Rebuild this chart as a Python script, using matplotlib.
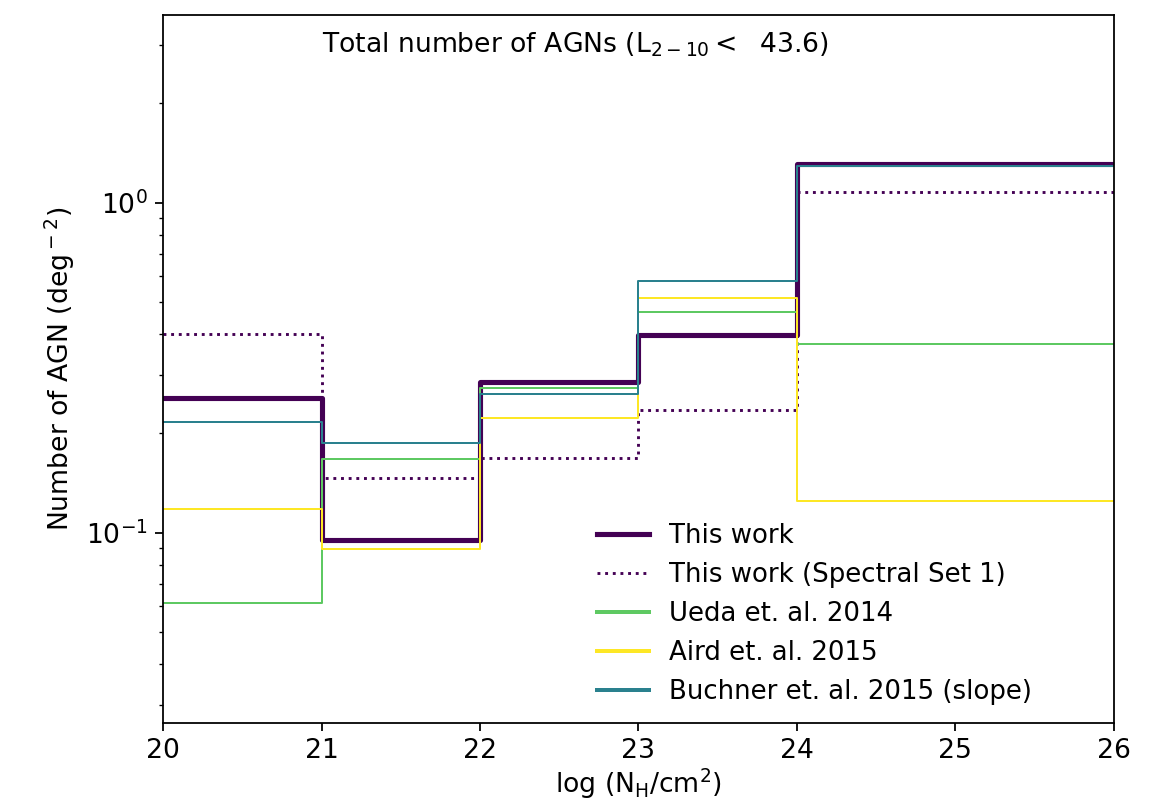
import matplotlib
matplotlib.use("Agg")
import matplotlib.pyplot as plt
import numpy as np

# Column-density bin edges (log N_H / cm^2)
nh_edges = [20, 21, 22, 23, 24, 26]

# Number densities per bin (deg^-2)
this_work = [0.256, 0.095, 0.286, 0.396, 1.31]
this_work_set1 = [0.399, 0.147, 0.168, 0.235, 1.075]
ueda2014 = [0.0611, 0.167, 0.275, 0.468, 0.372]
aird2015 = [0.118, 0.0891, 0.222, 0.515, 0.125]
buchner2015 = [0.217, 0.187, 0.264, 0.579, 1.29]

labels = ["This work", "This work (Spectral Set 1)", "Ueda et. al. 2014",
          "Aird et. al. 2015", "Buchner et. al. 2015 (slope)"]

plt.rcParams["font.size"] = 12

fig = plt.figure(figsize=(1149 / 160, 799 / 160), dpi=160)
ax = fig.add_axes([0.1419, 0.0955, 0.8276, 0.8857])


def draw_steps(vals, **kw):
    y = list(vals) + [vals[-1]]
    return ax.step(nh_edges, y, where="post", **kw)[0]


draw_steps(this_work, color="#440154", lw=2.3, label=labels[0])
draw_steps(this_work_set1, color="#440154", lw=1.3, ls=":", label=labels[1])
draw_steps(ueda2014, color="#5ec962", lw=0.9, label=labels[2])
draw_steps(aird2015, color="#fde725", lw=0.9, label=labels[3])
draw_steps(buchner2015, color="#2a818e", lw=0.9, label=labels[4])

ax.set_yscale("log")
ax.set_xlim(20, 26)
ax.set_ylim(0.0266, 3.7)
ax.set_xticks(range(20, 27))
ax.set_xlabel(r"log (N$_{\rm H}$/cm$^2$)", labelpad=1)
ax.set_ylabel(r"Number of AGN (deg$^-$$^2$)")

ax.text(0.167, 0.978, r"Total number of AGNs (L$_{2-10}<$  43.6)",
        transform=ax.transAxes, ha="left", va="top", fontsize=12)

leg = ax.legend(loc="lower left", frameon=False, bbox_to_anchor=(0.456, 0.025),
                borderpad=0, borderaxespad=0, handlelength=2.0,
                handletextpad=0.8, labelspacing=0.5, fontsize=11.7)
for line in leg.get_lines()[2:]:
    line.set_linewidth(1.8)

fig.savefig("out.png", dpi=160)
